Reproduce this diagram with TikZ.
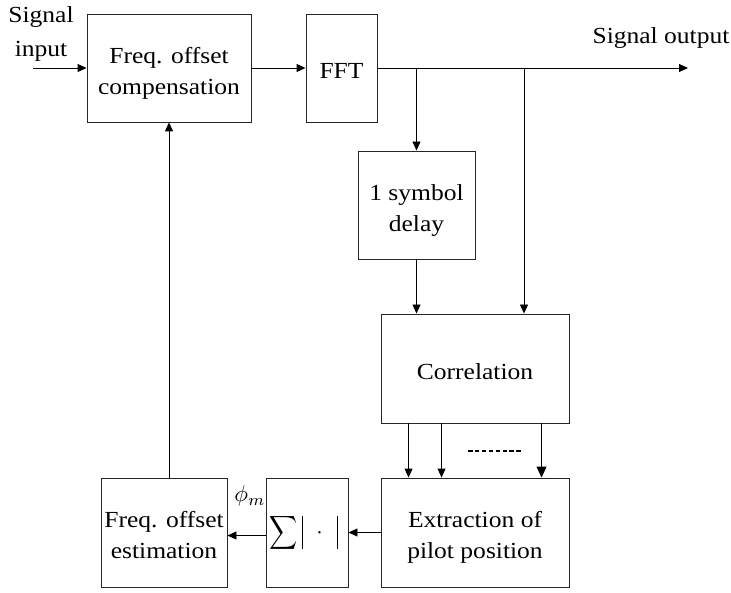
\documentclass[tikz,border=0pt]{standalone}
\usepackage{fontspec}
\setmainfont{Liberation Serif}[FakeStretch=1.11]
\usetikzlibrary{arrows.meta,calc}
\newcommand\boxtext[1]{\raisebox{0pt}[\dimexpr\height+9pt\relax][\depth]{\begin{tabular}{@{}c@{}}#1\end{tabular}}}
\newcommand\sumbar{\rule[-10.6pt]{1pt}{33pt}}
\begin{document}
\begin{tikzpicture}[x=1pt,y=-1pt,
  box/.style={draw=black!85,line width=0.9pt,rectangle,inner sep=0pt,
    font=\fontsize{23}{31}\selectfont},
  arr/.style={draw=black,line width=0.9pt,-{Triangle[length=9pt,width=8pt]}},
  bigarr/.style={draw=black,line width=0.9pt,-{Triangle[length=11pt,width=10pt]}},
  lbl/.style={inner sep=0pt,align=center,font=\fontsize{23}{31}\selectfont}]
\useasboundingbox (0,0) rectangle (731,593);

\node[box,minimum width=164pt,minimum height=108pt] (comp) at (169,68) {\boxtext{Freq. offset\\compensation}};
\node[box,minimum width=71pt,minimum height=108pt] (fft) at (341.5,68) {\boxtext{FFT}};
\node[box,minimum width=117pt,minimum height=108pt] (delay) at (416.5,205) {\boxtext{1 symbol\\delay}};
\node[box,minimum width=188pt,minimum height=109pt] (corr) at (475,368.5) {\boxtext{Correlation}};
\node[box,minimum width=188pt,minimum height=109pt] (extr) at (475,532.5) {\boxtext{Extraction of\\pilot position}};
\node[box,minimum width=82pt,minimum height=109pt] (sum) at (307,532.5) {};
\node[inner sep=0pt,font=\normalsize] (sumtxt) at (303.5,532.5) {\scalebox{1.95}[2.35]{$\displaystyle\sum$}\hspace{4pt}\sumbar\hspace{13.8pt}\scalebox{2.3}{$\cdot$}\hspace{13.8pt}\sumbar};
\node[box,minimum width=126pt,minimum height=109pt] (est) at (164,532.5) {\boxtext{Freq. offset\\estimation}};

\node[lbl] (sigin) at (41,34) {Signal\\[3pt]input};
\node[lbl,anchor=base] (sigout) at (661,44) {Signal output};
\node[inner sep=0pt,font=\normalsize] (phi) at (250,496) {\scalebox{2.3}{$\phi_m$}};

\coordinate (in) at (33,68);
\coordinate (out) at (688,68);
\coordinate (b1) at (416.5,68);
\coordinate (b2) at (524,68);

\draw[arr] (in) -- (comp.west);
\draw[arr] (comp.east) -- (fft.west);
\draw[arr] (fft.east) -- (out);
\draw[arr] (b1) -- (delay.north);
\draw[arr] (delay.south) -- (delay.south |- corr.north);
\draw[arr] (b2) -- (b2 |- corr.north);

\draw[arr] ([xshift=28pt]corr.south west) -- ([xshift=28pt]extr.north west);
\draw[arr] ([xshift=61pt]corr.south west) -- ([xshift=61pt]extr.north west);
\draw[bigarr] ([xshift=161pt]corr.south west) -- ([xshift=161pt]extr.north west);
\draw[line width=2.4pt,dash pattern=on 4.5pt off 2.4pt] (468,451) -- (523,451);

\draw[arr] (extr.west) -- (sum.east);
\draw[arr] ([yshift=-3pt]sum.west) -- ([yshift=-3pt]est.east);
\draw[arr] (est.north -| comp.south) -- (comp.south);
\end{tikzpicture}
\end{document}
